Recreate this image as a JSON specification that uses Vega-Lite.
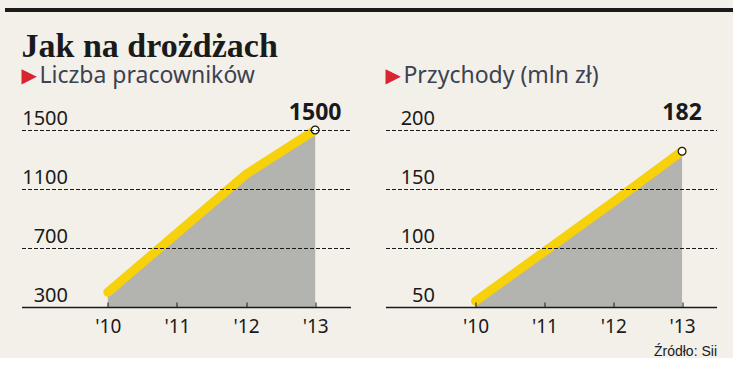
{
  "$schema": "https://vega.github.io/schema/vega-lite/v6.json",
  "background": "#f3f0ea",
  "padding": {"left": 5, "top": 4, "right": 0, "bottom": 0},
  "config": {"view": {"stroke": null}, "font": "Noto Sans"},
  "center": true,
  "spacing": 15,
  "vconcat": [
    {
      "width": 728,
      "height": 4,
      "view": {"fill": "#1b1b1b", "stroke": null},
      "data": {"values": [{"t": ""}]},
      "mark": {"type": "text"},
      "encoding": {"text": {"field": "t"}}
    },
    {
      "title": {"text": "Jak na drożdżach", "anchor": "start", "frame": "bounds", "font": "Liberation Serif", "fontSize": 34, "fontWeight": "bold", "color": "#1a1a1a", "offset": 1},
      "spacing": 35,
      "hconcat": [
        {
          "width": 329,
          "height": 177,
          "title": {"text": "\u200b\u00a0\u00a0\u00a0Liczba pracowników", "anchor": "start", "frame": "group", "font": "Noto Sans", "fontSize": 23, "fontWeight": "normal", "color": "#3b4250", "subtitle": "▶", "subtitleColor": "#d9262c", "subtitleFont": "DejaVu Sans", "subtitleFontSize": 20, "subtitlePadding": -22, "offset": 14},
          "data": {"values": [
            {"year": 2010, "value": 400},
            {"year": 2011, "value": 800},
            {"year": 2012, "value": 1200},
            {"year": 2013, "value": 1500}
          ]},
          "encoding": {
            "x": {"field": "year", "type": "quantitative", "scale": {"domain": [2008.751, 2013.511], "nice": false, "zero": false},
              "axis": {"title": null, "values": [2010, 2011, 2012, 2013], "labelExpr": "\"'\" + slice(toString(datum.value), 2)", "grid": false, "domain": true, "domainColor": "#1a1a1a", "domainWidth": 1.5, "ticks": true, "tickSize": -5, "tickColor": "#1a1a1a", "tickWidth": 1, "labelPadding": 15, "labelFlush": false, "labelFont": "Noto Sans", "labelFontSize": 19, "labelColor": "#1a1a1a", "zindex": 1}}
          },
          "layer": [
            {
              "mark": {"type": "area", "color": "#b3b3b0"},
              "encoding": {
                "y": {"field": "value", "type": "quantitative", "scale": {"domain": [300, 1500], "nice": false, "zero": false},
                  "axis": {"title": null, "values": [300, 700, 1100, 1500], "format": "d", "grid": true, "gridDash": [4, 2], "gridColor": "#1a1a1a", "gridWidth": 1, "domain": false, "ticks": false, "labelAlign": "right", "labelPadding": -46, "labelBaseline": "alphabetic", "labelOffset": -6, "labelFont": "Noto Sans", "labelFontSize": 20, "labelColor": "#1a1a1a", "zindex": 1}},
                "y2": {"datum": 300}
              }
            },
            {
              "mark": {"type": "line", "color": "#f6d10c", "strokeWidth": 9, "strokeCap": "round", "strokeJoin": "round"},
              "encoding": {"y": {"field": "value", "type": "quantitative"}}
            },
            {
              "transform": [{"filter": "datum.year == 2013"}],
              "mark": {"type": "point", "shape": "circle", "filled": true, "fill": "white", "stroke": "#1a1a1a", "strokeWidth": 1.2, "size": 60, "opacity": 1},
              "encoding": {"y": {"field": "value", "type": "quantitative"}}
            },
            {
              "transform": [{"filter": "datum.year == 2013"}],
              "mark": {"type": "text", "font": "Noto Sans", "fontWeight": "bold", "fontSize": 23, "baseline": "alphabetic", "dy": -10, "fill": "#1a1a1a"},
              "encoding": {"y": {"datum": 1500}, "text": {"field": "value", "type": "quantitative", "format": "d"}}
            }
          ]
        },
        {
          "width": 331,
          "height": 177,
          "title": {"text": "\u200b\u00a0\u00a0\u00a0Przychody (mln zł)", "anchor": "start", "frame": "group", "font": "Noto Sans", "fontSize": 23, "fontWeight": "normal", "color": "#3b4250", "subtitle": "▶", "subtitleColor": "#d9262c", "subtitleFont": "DejaVu Sans", "subtitleFontSize": 20, "subtitlePadding": -22, "offset": 14},
          "data": {"values": [
            {"year": 2010, "value": 55},
            {"year": 2011, "value": 97},
            {"year": 2012, "value": 139},
            {"year": 2013, "value": 182}
          ]},
          "encoding": {
            "x": {"field": "year", "type": "quantitative", "scale": {"domain": [2008.692, 2013.5], "nice": false, "zero": false},
              "axis": {"title": "Źródło: Sii", "titleAnchor": "end", "titleFont": "Liberation Sans", "titleFontSize": 14, "titleFontWeight": "normal", "titleColor": "#1a1a1a", "titlePadding": 8, "values": [2010, 2011, 2012, 2013], "labelExpr": "\"'\" + slice(toString(datum.value), 2)", "grid": false, "domain": true, "domainColor": "#1a1a1a", "domainWidth": 1.5, "ticks": true, "tickSize": -5, "tickColor": "#1a1a1a", "tickWidth": 1, "labelPadding": 15, "labelFlush": false, "labelFont": "Noto Sans", "labelFontSize": 19, "labelColor": "#1a1a1a", "zindex": 1}}
          },
          "layer": [
            {
              "mark": {"type": "area", "color": "#b3b3b0"},
              "encoding": {
                "y": {"field": "value", "type": "quantitative", "scale": {"domain": [50, 200], "nice": false, "zero": false},
                  "axis": {"title": null, "values": [50, 100, 150, 200], "format": "d", "grid": true, "gridDash": [4, 2], "gridColor": "#1a1a1a", "gridWidth": 1, "domain": false, "ticks": false, "labelAlign": "right", "labelPadding": -49, "labelBaseline": "alphabetic", "labelOffset": -6, "labelFont": "Noto Sans", "labelFontSize": 20, "labelColor": "#1a1a1a", "zindex": 1}},
                "y2": {"datum": 50}
              }
            },
            {
              "mark": {"type": "line", "color": "#f6d10c", "strokeWidth": 9, "strokeCap": "round", "strokeJoin": "round"},
              "encoding": {"y": {"field": "value", "type": "quantitative"}}
            },
            {
              "transform": [{"filter": "datum.year == 2013"}],
              "mark": {"type": "point", "shape": "circle", "filled": true, "fill": "white", "stroke": "#1a1a1a", "strokeWidth": 1.2, "size": 60, "opacity": 1},
              "encoding": {"y": {"field": "value", "type": "quantitative"}}
            },
            {
              "transform": [{"filter": "datum.year == 2013"}],
              "mark": {"type": "text", "font": "Noto Sans", "fontWeight": "bold", "fontSize": 23, "baseline": "alphabetic", "dy": -10, "fill": "#1a1a1a"},
              "encoding": {"y": {"datum": 200}, "text": {"field": "value", "type": "quantitative", "format": "d"}}
            }
          ]
        }
      ]
    }
  ]
}
